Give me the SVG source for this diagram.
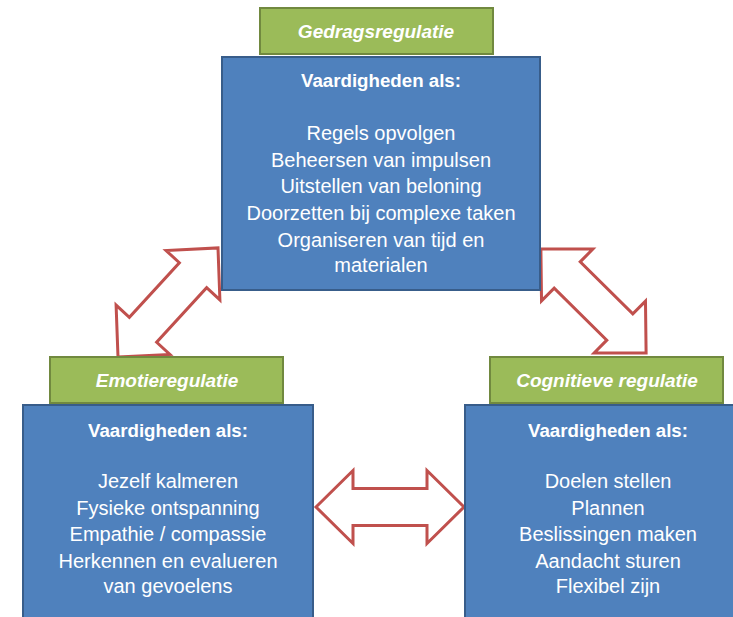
<svg xmlns="http://www.w3.org/2000/svg" width="733" height="617" viewBox="0 0 733 617">
<defs>
<style>
.blue{fill:#4f81bd;stroke:#385d8a;stroke-width:2}
.green{fill:#9bbb59;stroke:#71893f;stroke-width:2}
.lbl{font-family:"Liberation Sans",Arial,sans-serif;font-size:19px;font-weight:bold;font-style:italic;fill:#ffffff;text-anchor:middle}
.hd{font-family:"Liberation Sans",Arial,sans-serif;font-size:18.7px;font-weight:bold;fill:#ffffff;text-anchor:middle}
.bd{font-family:"Liberation Sans",Arial,sans-serif;font-size:20px;fill:#ffffff;text-anchor:middle}
.arr{fill:#ffffff;stroke:#c0504d;stroke-width:3;stroke-linejoin:miter}
</style>
<polygon id="dbl" points="-74,0 -37,-36.5 -37,-18.5 37,-18.5 37,-36.5 74,0 37,36.5 37,18.5 -37,18.5 -37,36.5"/>
</defs>
<rect width="733" height="617" fill="#ffffff"/>
<g id="connectors">
<use href="#dbl" class="arr" transform="translate(168,302.5) rotate(-47.5)"/>
<use href="#dbl" class="arr" transform="translate(593.5,301) rotate(44.7)"/>
<use href="#dbl" class="arr" transform="translate(390,507)"/>
</g>
<g id="gedrag">
<rect class="green" x="260" y="8" width="233" height="46"/>
<text class="lbl" x="376" y="38">Gedragsregulatie</text>
<rect class="blue" x="222" y="57" width="318" height="233"/>
<text class="hd" x="381" y="87">Vaardigheden als:</text>
<text class="bd" x="381" y="140">Regels opvolgen</text>
<text class="bd" x="381" y="167">Beheersen van impulsen</text>
<text class="bd" x="381" y="193">Uitstellen van beloning</text>
<text class="bd" x="381" y="220">Doorzetten bij complexe taken</text>
<text class="bd" x="381" y="247">Organiseren van tijd en</text>
<text class="bd" x="381" y="272">materialen</text>
</g>
<g id="emotie">
<rect class="green" x="50" y="357" width="233" height="46"/>
<text class="lbl" x="167" y="387">Emotieregulatie</text>
<rect class="blue" x="23" y="405" width="290" height="225"/>
<text class="hd" x="168" y="437">Vaardigheden als:</text>
<text class="bd" x="168" y="488">Jezelf kalmeren</text>
<text class="bd" x="168" y="515">Fysieke ontspanning</text>
<text class="bd" x="168" y="541">Empathie / compassie</text>
<text class="bd" x="168" y="568">Herkennen en evalueren</text>
<text class="bd" x="168" y="593">van gevoelens</text>
</g>
<g id="cognitief">
<rect class="green" x="490" y="357" width="233" height="46"/>
<text class="lbl" x="607" y="387">Cognitieve regulatie</text>
<rect class="blue" x="465" y="405" width="280" height="225"/>
<text class="hd" x="608" y="437">Vaardigheden als:</text>
<text class="bd" x="608" y="488">Doelen stellen</text>
<text class="bd" x="608" y="515">Plannen</text>
<text class="bd" x="608" y="541">Beslissingen maken</text>
<text class="bd" x="608" y="568">Aandacht sturen</text>
<text class="bd" x="608" y="593">Flexibel zijn</text>
</g>
</svg>
